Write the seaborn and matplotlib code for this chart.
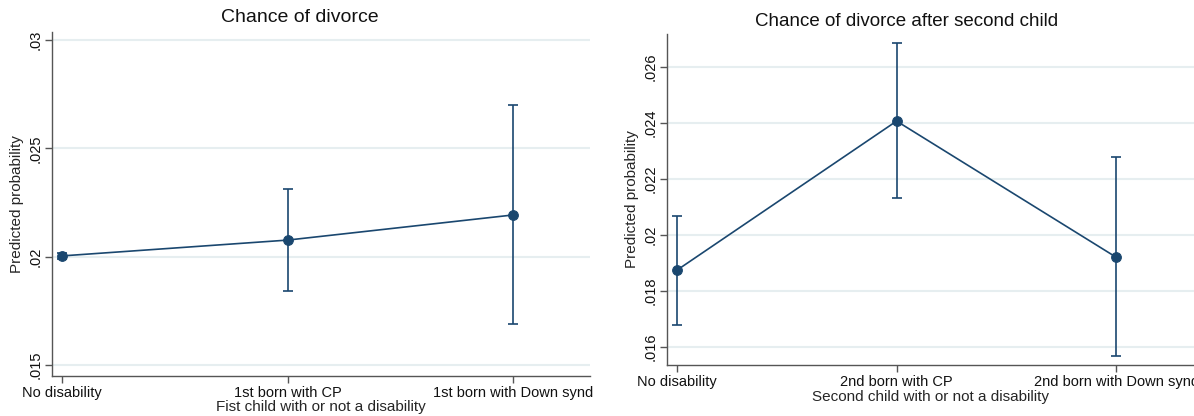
import matplotlib
matplotlib.use("Agg")
import matplotlib.pyplot as plt
import pandas as pd
import seaborn as sns
from matplotlib.ticker import FuncFormatter

# first child (value labels are truncated in the source, as in Stata)
first_cats = ["No disability", "1st born with CP", "1st born with Down synd"]
first_prob = [0.02004, 0.02077, 0.02193]
first_lo = [0.01992, 0.01840, 0.01688]
first_hi = [0.02016, 0.02315, 0.02702]
first_ticks = [0.015, 0.02, 0.025, 0.03]

# second child
second_cats = ["No disability", "2nd born with CP", "2nd born with Down synd"]
second_prob = [0.01875, 0.02407, 0.01921]
second_lo = [0.01680, 0.02132, 0.01568]
second_hi = [0.02068, 0.02686, 0.02278]
second_ticks = [0.016, 0.018, 0.02, 0.022, 0.024, 0.026]

NAVY = "#1a476f"
GRID = "#e6eef0"
SPINE = "#555555"


def strip_zero(v, _pos):
    return f"{v:.3f}".rstrip("0").lstrip("0")


def draw_panel(ax, cats, prob, lo, hi, ticks, ylim, xlim, xlabel):
    df = pd.DataFrame({"pos": range(len(cats)), "prob": prob})
    err = [[p - l for p, l in zip(prob, lo)], [h - p for p, h in zip(prob, hi)]]
    ax.errorbar(df["pos"], df["prob"], yerr=err, fmt="none", ecolor=NAVY,
                elinewidth=1.2, capsize=3.5, capthick=1.2, zorder=2)
    sns.lineplot(data=df, x="pos", y="prob", ax=ax, color=NAVY, linewidth=1.2,
                 marker="o", markersize=7, markeredgecolor=NAVY, zorder=3)
    ax.set_xticks(range(len(cats)))
    ax.set_xticklabels(cats, fontsize=10.5)
    ax.set_yticks(ticks)
    ax.yaxis.set_major_formatter(FuncFormatter(strip_zero))
    for lab in ax.get_yticklabels():
        lab.set_rotation(90)
        lab.set_va("center")
        lab.set_fontsize(10.5)
    ax.set_ylim(*ylim)
    ax.set_xlim(*xlim)
    ax.grid(axis="y", color=GRID, linewidth=1.5)
    ax.grid(axis="x", visible=False)
    for side in ["top", "right"]:
        ax.spines[side].set_visible(False)
    for side in ["left", "bottom"]:
        ax.spines[side].set_color(SPINE)
        ax.spines[side].set_linewidth(1.0)
    ax.tick_params(axis="both", direction="out", length=5, width=1, color=SPINE,
                   left=True, bottom=True, pad=2)
    ax.set_xlabel(xlabel, fontsize=11, labelpad=0)
    ax.set_ylabel("Predicted probability", fontsize=11, labelpad=3)


sns.set_theme(style="white")
plt.rcParams["font.family"] = ["Liberation Sans", "DejaVu Sans"]
plt.rcParams["text.color"] = "#111111"
plt.rcParams["xtick.color"] = "#111111"
plt.rcParams["ytick.color"] = "#111111"

W, H = 1194, 416
fig = plt.figure(figsize=(W / 100, H / 100), dpi=100)
ax1 = fig.add_axes([52 / W, 1 - 376 / H, (590 - 52) / W, (376 - 32) / H])
ax2 = fig.add_axes([667 / W, 1 - 365 / H, (1194 - 667) / W, (365 - 34) / H])

draw_panel(ax1, first_cats, first_prob, first_lo, first_hi, first_ticks,
           (0.01450, 0.03037), (-0.044, 2.34), "Fist child with or not a disability")
draw_panel(ax2, second_cats, second_prob, second_lo, second_hi, second_ticks,
           (0.01536, 0.02718), (-0.046, 2.355), "Second child with or not a disability")
ax2.xaxis.labelpad = 1

fig.text(300 / W, 1 - 18 / H, "Chance of divorce", ha="center", va="center", fontsize=14)
fig.text(907 / W, 1 - 21 / H, "Chance of divorce after second child", ha="center",
         va="center", fontsize=13.5)

fig.savefig("out.png", dpi=100, facecolor="white")
